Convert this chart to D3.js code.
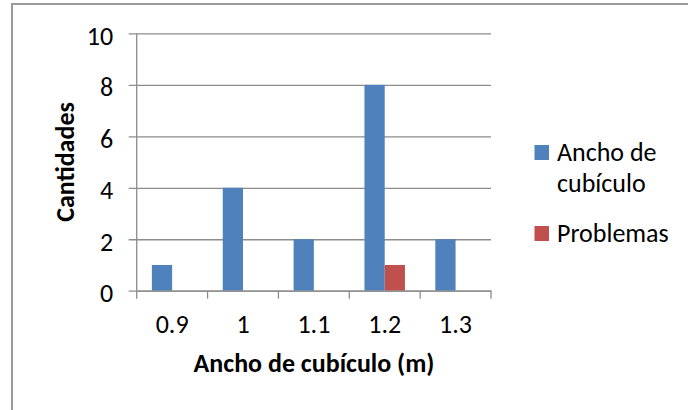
<!DOCTYPE html>
<html>
<head>
<meta charset="utf-8">
<script src="https://cdn.jsdelivr.net/npm/d3@7"></script>
<style>
  html, body { margin: 0; padding: 0; background: #fff; }
  svg text { font-family: Carlito, Calibri, Lato, "Noto Sans", sans-serif; fill: #000; }
</style>
</head>
<body>
<svg id="chart" width="688" height="410"></svg>
<script>
// Widths of cubicles (m) and counts for each series
const categories = ["0.9", "1", "1.1", "1.2", "1.3"];
const seriesNames = ["Ancho de cubículo", "Problemas"];
const anchoValues = [1, 4, 2, 8, 2];
const problemasValues = [0, 0, 0, 1, 0];
const yTicks = [0, 2, 4, 6, 8, 10];
const colors = ["#4f81bd", "#c0504d"];

const fontSize = 26;
const svg = d3.select("#chart");

// Chart frame
svg.append("path")
  .attr("d", "M12,410 V4 H688")
  .attr("fill", "none")
  .attr("stroke", "#9a9a9a")
  .attr("stroke-width", 2);

const plot = { left: 136.7, right: 491, top: 33.4, bottom: 290.7 };

const x0 = d3.scaleBand()
  .domain(categories)
  .range([plot.left, plot.right])
  .paddingInner(0)
  .paddingOuter(0);

// Two bars per category with a 150% gap: 2w + 1.5w = band
const barW = x0.bandwidth() / 3.5;
const x1 = d3.scaleBand()
  .domain(seriesNames)
  .range([barW * 0.75, barW * 2.75]);

const y = d3.scaleLinear().domain([0, 10]).range([plot.bottom, plot.top]);

const axisColor = "#8c8c8c";

// Horizontal gridlines with left tick marks
const yAxis = d3.axisLeft(y)
  .tickValues(yTicks)
  .tickSize(-(plot.right - plot.left))
  .tickPadding(0)
  .tickFormat(d3.format("d"));

const gy = svg.append("g")
  .attr("transform", `translate(${plot.left},0)`)
  .call(yAxis);
gy.select(".domain").remove();
gy.selectAll(".tick line")
  .attr("x1", -8)
  .attr("stroke", axisColor)
  .attr("stroke-width", 1.3);
gy.selectAll(".tick text")
  .attr("x", -23.5)
  .attr("dy", "0.42em")
  .attr("font-size", fontSize)
  .style("font-family", "Carlito, Calibri, Lato, sans-serif");

// Bars
const data = categories.map((c, i) => ({
  cat: c,
  values: [
    { name: seriesNames[0], v: anchoValues[i], color: colors[0] },
    { name: seriesNames[1], v: problemasValues[i], color: colors[1] }
  ]
}));

const groups = svg.append("g").selectAll("g")
  .data(data)
  .join("g")
  .attr("transform", d => `translate(${x0(d.cat)},0)`);

groups.selectAll("rect")
  .data(d => d.values.filter(s => s.v > 0))
  .join("rect")
  .attr("x", d => x1(d.name))
  .attr("width", x1.bandwidth())
  .attr("y", d => y(d.v))
  .attr("height", d => y(0) - y(d.v))
  .attr("fill", d => d.color);

// Vertical axis line
svg.append("line")
  .attr("x1", plot.left).attr("x2", plot.left)
  .attr("y1", plot.top).attr("y2", plot.bottom)
  .attr("stroke", axisColor)
  .attr("stroke-width", 1.3);

// Category axis with tick marks between categories
const xAxis = d3.axisBottom(x0).tickSize(0).tickPadding(0);
const gx = svg.append("g")
  .attr("transform", `translate(0,${plot.bottom})`)
  .call(xAxis);
gx.select(".domain")
  .attr("stroke", axisColor)
  .attr("stroke-width", 1.3);
gx.selectAll(".tick text")
  .attr("y", 42.3)
  .attr("dy", 0)
  .attr("font-size", fontSize)
  .style("font-family", "Carlito, Calibri, Lato, sans-serif");

const boundaries = d3.range(categories.length + 1).map(i => plot.left + i * x0.bandwidth());
gx.selectAll(".sep")
  .data(boundaries)
  .join("line")
  .attr("class", "sep")
  .attr("x1", d => d).attr("x2", d => d)
  .attr("y1", 0).attr("y2", 8)
  .attr("stroke", axisColor)
  .attr("stroke-width", 1.3);

// Axis titles
svg.append("text")
  .attr("x", 314)
  .attr("y", 372)
  .attr("text-anchor", "middle")
  .attr("font-size", fontSize)
  .attr("font-weight", "bold")
  .text("Ancho de cubículo (m)");

svg.append("text")
  .attr("transform", `translate(73.5,162) rotate(-90)`)
  .attr("text-anchor", "middle")
  .attr("font-size", fontSize)
  .attr("font-weight", "bold")
  .text("Cantidades");

// Legend
const legend = svg.append("g");
const legendItems = [
  { lines: ["Ancho de", "cubículo"], color: colors[0], y: 145 },
  { lines: ["Problemas"], color: colors[1], y: 226 }
];
legendItems.forEach(item => {
  legend.append("rect")
    .attr("x", 534.5).attr("y", item.y)
    .attr("width", 14.5).attr("height", 15)
    .attr("fill", item.color);
  const t = legend.append("text")
    .attr("x", 557)
    .attr("y", item.y + 16)
    .attr("font-size", fontSize);
  item.lines.forEach((ln, i) => {
    t.append("tspan").attr("x", 557).attr("dy", i === 0 ? 0 : 31).text(ln);
  });
});
</script>
</body>
</html>
